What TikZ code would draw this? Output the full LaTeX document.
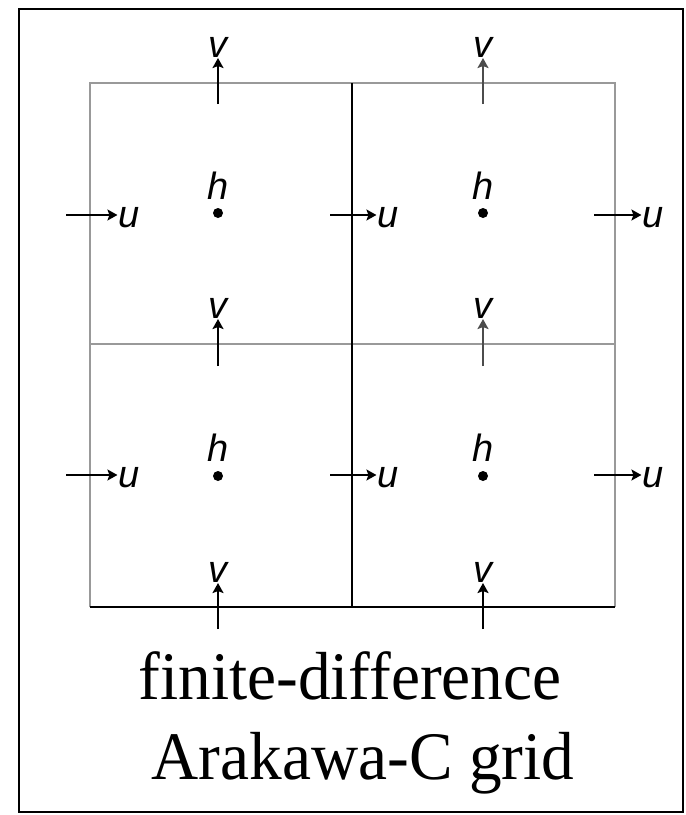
\documentclass[tikz,border=0pt]{standalone}
\usepackage{fontspec}
\setmainfont{Liberation Serif}
\newfontfamily\varfont{Liberation Sans}
\usetikzlibrary{arrows.meta}
\begin{document}
\begin{tikzpicture}[x=0.5pt,y=-0.5pt,
  varlbl/.style={font=\varfont\itshape\fontsize{19}{19}\selectfont,inner sep=0.3pt},
  hdot/.style={circle,fill=black,inner sep=0pt,minimum size=5pt},
  flowarr/.style={-{Stealth[length=5pt,width=5.5pt,inset=1pt]},line width=0.9pt},
  gridgray/.style={draw=black!40,line width=0.9pt},
  gridblack/.style={draw=black,line width=0.9pt},
  caption/.style={font=\fontsize{34}{40}\selectfont,inner sep=0pt,anchor=base,xscale=0.96}]
\useasboundingbox (0,0) rectangle (686,815);
% outer frame
\draw[line width=1.2pt] (19,9) rectangle (683,812);
% grid lines
\draw[gridgray] (90,607) -- (90,83) -- (615,83) -- (615,607);
\draw[gridgray] (90,344) -- (615,344);
\draw[gridblack] (352,83) -- (352,607);
\draw[gridblack] (90,607) -- (615,607);
% h points
\node[hdot] (h11) at (218,213) {};
\node[hdot] (h12) at (483,213) {};
\node[hdot] (h21) at (218,476) {};
\node[hdot] (h22) at (483,476) {};
\node[varlbl] (hl11) at (218,186) {h};
\node[varlbl] (hl12) at (483,186) {h};
\node[varlbl] (hl21) at (218,448) {h};
\node[varlbl] (hl22) at (483,448) {h};
% v points
\node[varlbl] (v11) at (218,47) {v};
\node[varlbl] (v12) at (483,47) {v};
\node[varlbl] (v21) at (218,308) {v};
\node[varlbl] (v22) at (483,308) {v};
\node[varlbl] (v31) at (218,572) {v};
\node[varlbl] (v32) at (483,572) {v};
\coordinate (tv11) at (218,104);
\coordinate (tv12) at (483,104);
\coordinate (tv21) at (218,366);
\coordinate (tv22) at (483,366);
\coordinate (tv31) at (218,629);
\coordinate (tv32) at (483,629);
\draw[flowarr] (tv11) -- (v11.south);
\draw[flowarr,black!70] (tv12) -- (v12.south);
\draw[flowarr] (tv21) -- (v21.south);
\draw[flowarr,black!70] (tv22) -- (v22.south);
\draw[flowarr] (tv31) -- (v31.south);
\draw[flowarr] (tv32) -- (v32.south);
% u points
\node[varlbl] (u11) at (129,218) {u};
\node[varlbl] (u12) at (388,218) {u};
\node[varlbl] (u13) at (653,218) {u};
\node[varlbl] (u21) at (129,478) {u};
\node[varlbl] (u22) at (388,478) {u};
\node[varlbl] (u23) at (653,478) {u};
\coordinate (tu11) at (66,215);
\coordinate (tu12) at (330,215);
\coordinate (tu13) at (594,215);
\coordinate (tu21) at (66,475);
\coordinate (tu22) at (330,475);
\coordinate (tu23) at (594,475);
\draw[flowarr] (tu11) -- (tu11 -| u11.west);
\draw[flowarr] (tu12) -- (tu12 -| u12.west);
\draw[flowarr] (tu13) -- (tu13 -| u13.west);
\draw[flowarr] (tu21) -- (tu21 -| u21.west);
\draw[flowarr] (tu22) -- (tu22 -| u22.west);
\draw[flowarr] (tu23) -- (tu23 -| u23.west);
% caption
\node[caption] (cap1) at (350,699) {finite-difference};
\node[caption] (cap2) at (363,779) {Arakawa-C grid};
\end{tikzpicture}
\end{document}
